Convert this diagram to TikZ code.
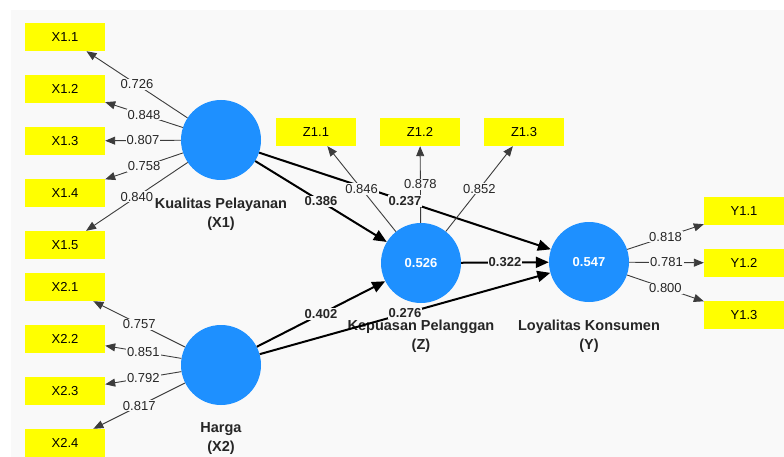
\documentclass[tikz,border=0pt]{standalone}
\usepackage{fontspec}
\setmainfont{Liberation Sans}
\usetikzlibrary{arrows.meta}
\definecolor{bgcolor}{RGB}{249,249,249}
\definecolor{latentcolor}{RGB}{30,144,255}
\definecolor{itemcolor}{RGB}{255,255,0}
\definecolor{loadcolor}{RGB}{60,60,60}
% from/to/value of every connector
\def\loadlist{x1/x11/0.726, x1/x12/0.848, x1/x13/0.807, x1/x14/0.758, x1/x15/0.840,
  x2/x21/0.757, x2/x22/0.851, x2/x23/0.792, x2/x24/0.817,
  z/z11/0.846, z/z12/0.878, z/z13/0.852, y/y11/0.818, y/y12/0.781, y/y13/0.800}
\def\coeflist{x1/z/0.386, x1/y/0.237, x2/z/0.402, x2/y/0.276, z/y/0.322}

\begin{document}
\begin{tikzpicture}[x=1pt, y=-1pt,
    latent/.style={circle, fill=latentcolor, minimum size=80pt, inner sep=0pt, text=white, font=\bfseries\fontsize{13}{15}\selectfont},
    item/.style={rectangle, fill=itemcolor, minimum width=80pt, minimum height=28pt, inner sep=0pt, font=\fontsize{13}{15}\selectfont},
    cname/.style={align=center, inner sep=0pt, text=black!85, font=\bfseries\fontsize{14.5}{19}\selectfont},
    load/.style={-{Triangle[length=10pt,width=8pt]}, draw=loadcolor, line width=0.9pt},
    coef/.style={-{Triangle[length=13pt,width=11pt]}, draw=black, line width=2pt},
    lval/.style={fill=bgcolor, inner sep=1pt, text=black!85, font=\fontsize{13}{15}\selectfont},
    cval/.style={lval, font=\bfseries\fontsize{13}{15}\selectfont}]
                \useasboundingbox (0,0) rectangle (784,457);
                \fill[bgcolor] (11,10) rectangle (784,457);

                % latent variables
                \node[latent] (x1) at (221,140) {};
                \node[latent] (x2) at (221,365) {};
                \node[latent] (z) at (421,263) {0.526};
                \node[latent] (y) at (589,262) {0.547};
                \node[cname] (x1name) at (221,214) {Kualitas Pelayanan\\(X1)};
                \node[cname] (x2name) at (221,439) {Harga\\(X2)};
                \node[cname] (zname) at (421,336) {Kepuasan Pelanggan\\(Z)};
                \node[cname] (yname) at (589,336) {Loyalitas Konsumen\\(Y)};

                % indicators
                \node[item] (x11) at (65,37) {X1.1};
                \node[item] (x12) at (65,89) {X1.2};
                \node[item] (x13) at (65,141) {X1.3};
                \node[item] (x14) at (65,193) {X1.4};
                \node[item] (x15) at (65,245) {X1.5};
                \node[item] (x21) at (65,287) {X2.1};
                \node[item] (x22) at (65,339) {X2.2};
                \node[item] (x23) at (65,391) {X2.3};
                \node[item] (x24) at (65,443) {X2.4};
                \node[item] (z11) at (316,132) {Z1.1};
                \node[item] (z12) at (420,132) {Z1.2};
                \node[item] (z13) at (524,132) {Z1.3};
                \node[item] (y11) at (744,211) {Y1.1};
                \node[item] (y12) at (744,263) {Y1.2};
                \node[item] (y13) at (744,315) {Y1.3};

                % all lines first, values on top of them
                \foreach \a/\b/\v in \coeflist \draw[coef] (\a) -- (\b);
                \foreach \a/\b/\v in \loadlist \draw[load] (\a) -- (\b);
                \foreach \a/\b/\v in \loadlist \path (\a) -- node[lval] {\v} (\b);
                \foreach \a/\b/\v in \coeflist \path (\a) -- node[cval] {\v} (\b);
\end{tikzpicture}
\end{document}
